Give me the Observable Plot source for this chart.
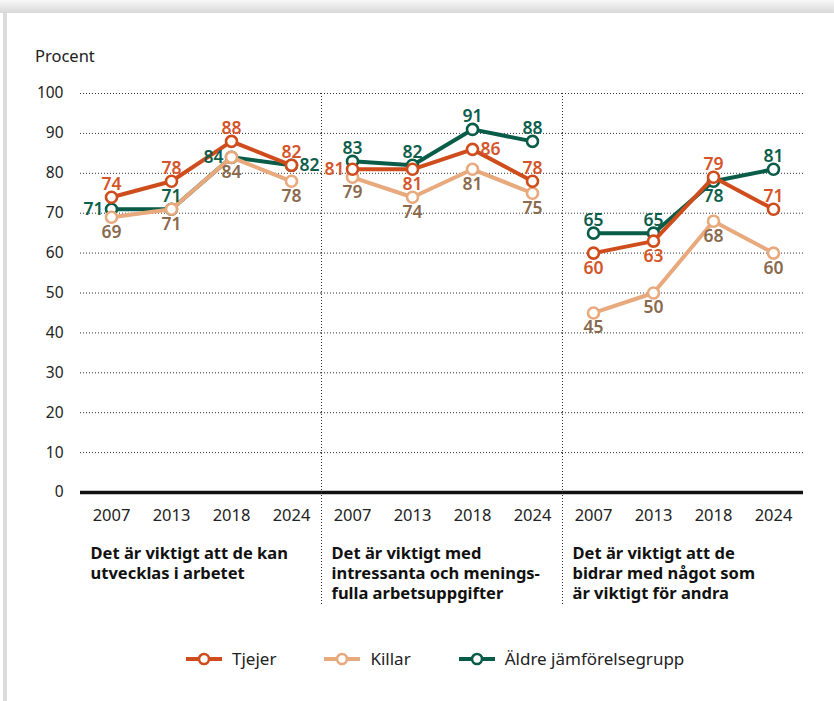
<!DOCTYPE html>
<html><head><meta charset="utf-8">
<script src="https://cdn.jsdelivr.net/npm/d3@7"></script>
<script src="https://cdn.jsdelivr.net/npm/@observablehq/plot@0.6"></script>
<style>
body{margin:0;background:#fff;font-family:"Noto Sans","Open Sans",sans-serif;color:#222;}
#wrap{position:relative;width:834px;height:701px;overflow:hidden;background:#fff;}
#shTop{position:absolute;left:0;top:0;width:834px;height:13px;background:linear-gradient(to bottom,#f8f8f8,#d8d8d8);}
#shLeft{position:absolute;left:3px;top:13px;width:4px;height:688px;background:#dcdcdc;}
#ylabel{position:absolute;left:35px;top:45px;font-size:16.5px;line-height:22px;color:#222;}
#chart{position:absolute;left:0;top:75px;}
#legend{position:absolute;left:186px;top:648px;display:flex;gap:48px;font-size:17px;line-height:22px;color:#222;}
#legend .item{display:flex;align-items:center;gap:10px;}
</style></head><body>
<div id="wrap">
  <div id="shTop"></div><div id="shLeft"></div>
  <div id="ylabel">Procent</div>
  <div id="chart"></div>
  <div id="legend"></div>
</div>
<script>
// ---- data ----
const panels = [
  "Det är viktigt att de kan\nutvecklas i arbetet",
  "Det är viktigt med\nintressanta och menings-\nfulla arbetsuppgifter",
  "Det är viktigt att de\nbidrar med något som\när viktigt för andra"
];
const years = ["2007", "2013", "2018", "2024"];
const seriesNames = ["Tjejer", "Killar", "Äldre jämförelsegrupp"];
const tjejer = [[74, 78, 88, 82], [81, 81, 86, 78], [60, 63, 79, 71]];
const killar = [[69, 71, 84, 78], [79, 74, 81, 75], [45, 50, 68, 60]];
const aldre  = [[71, 71, 84, 82], [83, 82, 91, 88], [65, 65, 78, 81]];
const yTicks = [0, 10, 20, 30, 40, 50, 60, 70, 80, 90, 100];

// label placement hints (which side of the point the value label sits)
const tjejerSide = [["above","above","above","above"],["left","below","right","above"],["below","below","above","above"]];
const killarSide = [["below","below","below","below"],["below","below","below","below"],["below","below","below","below"]];
const aldreSide  = [["left","above","left","right"],["above","above","above","above"],["above","above","below","above"]];

// ---- styles ----
const lineColor  = {"Tjejer": "#cf4c1c", "Killar": "#e8a97d", "Äldre jämförelsegrupp": "#095c48"};
const labelColor = {"Tjejer": "#d4552a", "Killar": "#8a6a4e", "Äldre jämförelsegrupp": "#0d5e4b"};

const seriesValues = {"Tjejer": tjejer, "Killar": killar, "Äldre jämförelsegrupp": aldre};
const seriesSides  = {"Tjejer": tjejerSide, "Killar": killarSide, "Äldre jämförelsegrupp": aldreSide};

const rows = [];
for (const s of seriesNames) {
  panels.forEach((p, i) => years.forEach((y, j) => {
    rows.push({series: s, panel: p, year: y, value: seriesValues[s][i][j], side: seriesSides[s][i][j]});
  }));
}

const drawOrder = ["Äldre jämförelsegrupp", "Killar", "Tjejer"];
const sideOpts = {
  above: {lineAnchor: "bottom", dy: -7, textAnchor: "middle"},
  below: {lineAnchor: "top", dy: 8, textAnchor: "middle"},
  left:  {lineAnchor: "middle", dx: -8, textAnchor: "end"},
  right: {lineAnchor: "middle", dx: 8, textAnchor: "start"}
};

const seriesMarks = drawOrder.flatMap(s => {
  const d = rows.filter(r => r.series === s);
  return [
    Plot.line(d, {fx: "panel", x: "year", y: "value", stroke: lineColor[s], strokeWidth: 4}),
    Plot.dot(d, {fx: "panel", x: "year", y: "value", r: 5.5, fill: "white", stroke: lineColor[s], strokeWidth: 2.6})
  ];
});
const labelMarks = drawOrder.flatMap(s =>
  Object.keys(sideOpts).map(side =>
    Plot.text(rows.filter(r => r.series === s && r.side === side), {
      fx: "panel", x: "year", y: "value", text: "value",
      fill: labelColor[s], fontSize: 17.5, fontWeight: 600, ...sideOpts[side]
    })
  )
);

const W = 834, H = 535, mL = 80, mR = 31, mT = 18, mB = 118;
const plot = Plot.plot({
  width: W, height: H,
  marginLeft: mL, marginRight: mR, marginTop: mT, marginBottom: mB,
  style: {fontFamily: "'Noto Sans','Open Sans',sans-serif", fontSize: "15.5px", color: "#222", background: "transparent", overflow: "visible"},
  fx: {domain: panels, padding: 0, axis: null},
  x: {domain: years, type: "point", padding: 0.5, axis: null},
  y: {domain: [0, 100], ticks: yTicks, label: null, tickSize: 0, tickPadding: 17},
  marks: [
    Plot.gridY(yTicks.filter(t => t > 0), {stroke: "#333", strokeOpacity: 1, strokeWidth: 1, strokeDasharray: "1,2"}),
    Plot.ruleY([0], {stroke: "#111", strokeWidth: 3.5}),
    Plot.axisX({tickSize: 0, tickPadding: 17, fontSize: 16.5, label: null}),
    ...seriesMarks,
    ...labelMarks,
    Plot.text(panels, {fx: d => d, text: d => d, frameAnchor: "bottom-left", dx: 10, dy: 52,
      lineAnchor: "top", textAnchor: "start", fontWeight: 700, fontSize: 16.5, lineHeight: 1.22, fill: "#111"})
  ]
});

// panel separators derived from the fx/y scales
const fxs = plot.scale("fx"), ys = plot.scale("y");
const ytop = ys.apply ? ys.apply(100) : mT;
const bw = fxs.bandwidth != null ? fxs.bandwidth : (W - mL - mR) / panels.length;
panels.slice(1).forEach((p, k) => {
  const x0 = fxs.apply ? fxs.apply(p) : mL + (k + 1) * bw;
  d3.select(plot).append("line")
    .attr("x1", x0 + 0.5).attr("x2", x0 + 0.5)
    .attr("y1", ytop).attr("y2", H - 5)
    .attr("stroke", "#333").attr("stroke-width", 1).attr("stroke-dasharray", "1,2");
});
document.getElementById("chart").appendChild(plot);

// legend
const legend = d3.select("#legend");
seriesNames.forEach(s => {
  const item = legend.append("div").attr("class", "item");
  const sv = item.append("svg").attr("width", 36).attr("height", 14);
  sv.append("line").attr("x1", 0).attr("x2", 36).attr("y1", 7).attr("y2", 7)
    .attr("stroke", lineColor[s]).attr("stroke-width", 4);
  sv.append("circle").attr("cx", 18).attr("cy", 7).attr("r", 5)
    .attr("fill", "white").attr("stroke", lineColor[s]).attr("stroke-width", 2.6);
  item.append("span").text(s);
});
</script>
</body></html>
